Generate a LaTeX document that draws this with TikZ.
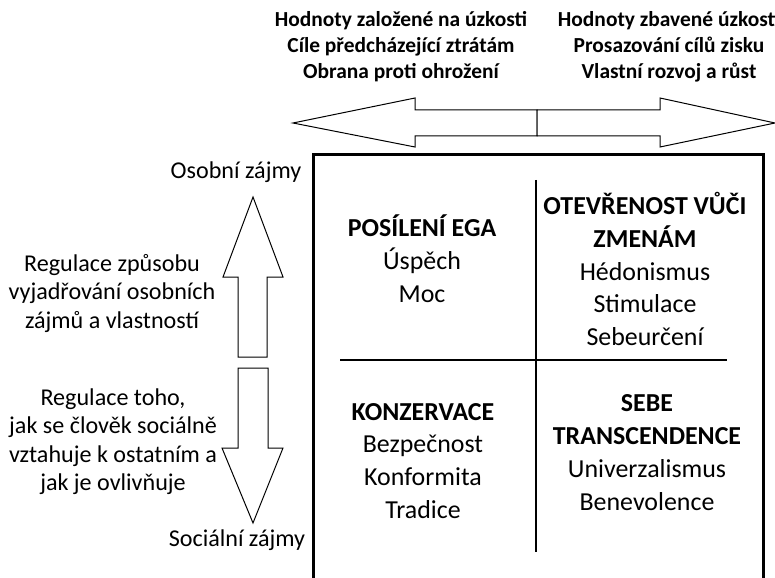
\documentclass[tikz,border=0pt]{standalone}
\usepackage{fontspec}
\setmainfont{Carlito}

\begin{document}
\begin{tikzpicture}[
    x=1bp, y=-1bp,
    outline/.style={draw, line width=1bp, line join=miter, fill=white},
    frame/.style={draw, line width=3bp},
    divider/.style={draw, line width=1.3bp},
    toptext/.style={font=\fontsize{21.5}{26}\selectfont\bfseries, align=center, inner sep=0pt},
    sidetext/.style={font=\fontsize{24.2}{28.5}\selectfont, align=center, inner sep=0pt},
    quad/.style={font=\fontsize{26}{33}\selectfont, align=center, inner sep=0pt}
]
    \useasboundingbox (0,0) rectangle (775,578);

    % --- Texty nahore ---
    \node[toptext] (anxious) at (401,46.5) {Hodnoty založené na úzkosti\\Cíle předcházející ztrátám\\Obrana proti ohrožení};
    \node[toptext] (free) at (669,46.5) {Hodnoty zbavené úzkosti\\Prosazování cílů zisku\\Vlastní rozvoj a růst};

    % --- Vodorovna dvojsipka ---
    \coordinate (hmid) at (537,123);
    \draw[outline] (537,110) -- (415,110) -- (415,98) -- (293,123) -- (415,147) -- (415,136) -- (537,136) -- cycle;
    \draw[outline] (537,110) -- (660,110) -- (660,98) -- (775,123) -- (660,147) -- (660,136) -- (537,136) -- cycle;

    % --- Svisle sipky vlevo ---
    \draw[outline] (238,357) -- (238,277) -- (223,277) -- (253,197) -- (283,277) -- (267,277) -- (267,357) -- cycle;
    \draw[outline] (238,368) -- (268,368) -- (268,448) -- (283,448) -- (253,523) -- (222,448) -- (238,448) -- cycle;

    \node[sidetext] (personal) at (236,172) {Osobní zájmy};
    \node[sidetext] (social) at (237,540) {Sociální zájmy};
    \node[sidetext] (regA) at (112,293.5) {Regulace způsobu\\vyjadřování osobních\\zájmů a vlastností};
    \node[sidetext] (regB) at (113,441.5) {Regulace toho,\\jak se člověk sociálně\\vztahuje k ostatním a\\jak je ovlivňuje};

    % --- Ramecek a kvadranty ---
    \draw[frame] (313,155) rectangle (763,595);
    \coordinate (center) at (536,360);
    \draw[divider] (center |- 0,180) -- (center |- 0,552);
    \draw[divider] (340,360) -- (727,360);

    \node[quad] (ego) at (422,258.5) {\textbf{POSÍLENÍ EGA}\\Úspěch\\Moc};
    \node[quad] (open) at (645,269) {\textbf{OTEVŘENOST VŮČI}\\\textbf{ZMENÁM}\\Hédonismus\\Stimulace\\Sebeurčení};
    \node[quad] (cons) at (423,461) {\textbf{KONZERVACE}\\Bezpečnost\\Konformita\\Tradice};
    \node[quad] (trans) at (647,452.5) {\textbf{SEBE}\\\textbf{TRANSCENDENCE}\\Univerzalismus\\Benevolence};

\end{tikzpicture}
\end{document}
